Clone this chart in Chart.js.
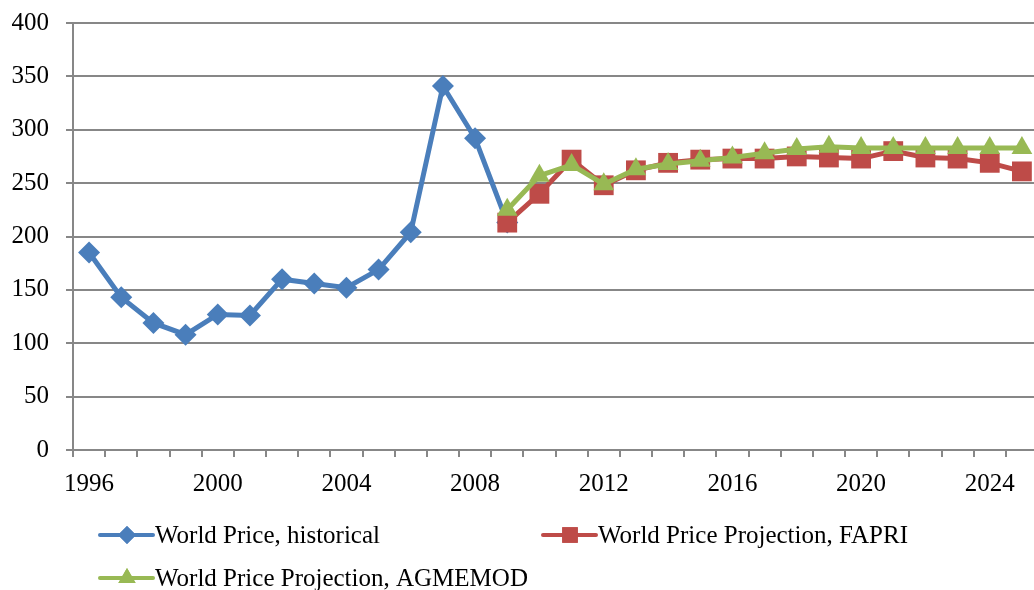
<!DOCTYPE html>
<html>
<head>
<meta charset="utf-8">
<script src="https://cdn.jsdelivr.net/npm/chart.js@4"></script>
<style>
  html, body { margin: 0; padding: 0; background: #fff; overflow: hidden; }
</style>
</head>
<body>
<canvas id="chart" width="1052" height="590"></canvas>
<script>
// years on the x axis
const years = [1996, 1997, 1998, 1999, 2000, 2001, 2002, 2003, 2004, 2005,
               2006, 2007, 2008, 2009, 2010, 2011, 2012, 2013, 2014, 2015,
               2016, 2017, 2018, 2019, 2020, 2021, 2022, 2023, 2024, 2025];

// 1996 - 2009
const historical = [185, 143, 119, 108, 127, 126, 160, 156, 152, 169,
                    204, 341, 292, 213];

// 2009 - 2025
const fapri = [213, 240, 272, 248, 262, 269, 272, 273, 273, 275,
               274, 273, 280, 274, 273, 269, 261];

const agmemod = [225, 257, 267, 249, 263, 268, 271, 274, 278, 282,
                 284, 283, 283, 283, 283, 283, 283];

const seriesNames = ['World Price, historical', 'World Price Projection, FAPRI', 'World Price Projection, AGMEMOD'];

const blue = '#4A7EBB';
const red = '#BE4B48';
const green = '#98B954';
const gridGray = '#878787';
const font = "'Liberation Serif', 'Times New Roman', serif";

// pad the series to the full year range
function alignFrom(startYear, values) {
    const out = years.map(() => null);
    const offset = years.indexOf(startYear);
    values.forEach((v, i) => { out[offset + i] = v; });
    return out;
}

// legend drawn by hand: line with the marker in the middle, like the original
const legendPlugin = {
    id: 'lineLegend',
    afterDraw(chart) {
        const ctx = chart.ctx;
        const items = [
            { x: 100, y: 535, color: blue, style: 'rectRot', r: 9 },
            { x: 543, y: 535, color: red, style: 'rect', r: 11 },
            { x: 100, y: 578, color: green, style: 'triangle', r: 10 }
        ];
        ctx.save();
        items.forEach((it, i) => {
            ctx.strokeStyle = it.color;
            ctx.lineWidth = 4;
            ctx.lineCap = 'round';
            ctx.beginPath();
            ctx.moveTo(it.x, it.y);
            ctx.lineTo(it.x + 53, it.y);
            ctx.stroke();
            ctx.fillStyle = it.color;
            Chart.helpers.drawPoint(ctx, { pointStyle: it.style, radius: it.r, borderWidth: 0 }, it.x + 27, it.y);
            ctx.fill();
            ctx.fillStyle = '#000';
            ctx.font = '25px ' + font;
            ctx.textBaseline = 'middle';
            ctx.textAlign = 'left';
            ctx.fillText(seriesNames[i], it.x + 55, it.y + 1);
        });
        ctx.restore();
    }
};

new Chart(document.getElementById('chart').getContext('2d'), {
    type: 'line',
    data: {
        labels: years,
        datasets: [
            {
                label: seriesNames[0],
                data: alignFrom(1996, historical),
                borderColor: blue,
                backgroundColor: blue,
                borderWidth: 5,
                pointStyle: 'rectRot',
                pointRadius: 11,
                pointBorderWidth: 0,
                order: 2
            },
            {
                label: seriesNames[1],
                data: alignFrom(2009, fapri),
                borderColor: red,
                backgroundColor: red,
                borderWidth: 5,
                pointStyle: 'rect',
                pointRadius: 14,
                pointBorderWidth: 0,
                order: 1
            },
            {
                label: seriesNames[2],
                data: alignFrom(2009, agmemod),
                borderColor: green,
                backgroundColor: green,
                borderWidth: 5,
                pointStyle: 'triangle',
                pointRadius: 12,
                pointBorderWidth: 0,
                order: 0
            }
        ]
    },
    options: {
        responsive: false,
        animation: false,
        layout: { padding: { top: 23, left: 0, right: 0, bottom: 0 } },
        plugins: {
            legend: { display: false },
            tooltip: { enabled: false }
        },
        scales: {
            x: {
                offset: true,
                grid: {
                    offset: true,
                    drawOnChartArea: false,
                    drawTicks: true,
                    tickLength: 7,
                    color: gridGray,
                    lineWidth: 2
                },
                border: { color: gridGray, width: 2 },
                ticks: {
                    autoSkip: false,
                    maxRotation: 0,
                    padding: 12,
                    color: '#000',
                    font: { family: font, size: 25 },
                    callback: function (value) {
                        const y = years[value];
                        return y % 4 === 0 ? String(y) : '';
                    }
                },
                afterFit(scale) { scale.height = 140; }
            },
            y: {
                min: 0,
                max: 400,
                grid: {
                    color: gridGray,
                    lineWidth: 2,
                    tickLength: 7
                },
                border: { color: gridGray, width: 2 },
                ticks: {
                    stepSize: 50,
                    padding: 17,
                    color: '#000',
                    font: { family: font, size: 25 }
                },
                afterFit(scale) {
                    scale.width = 73;
                    scale.paddingTop = 0;
                    scale.paddingBottom = 0;
                }
            }
        }
    },
    plugins: [legendPlugin]
});
</script>
</body>
</html>
